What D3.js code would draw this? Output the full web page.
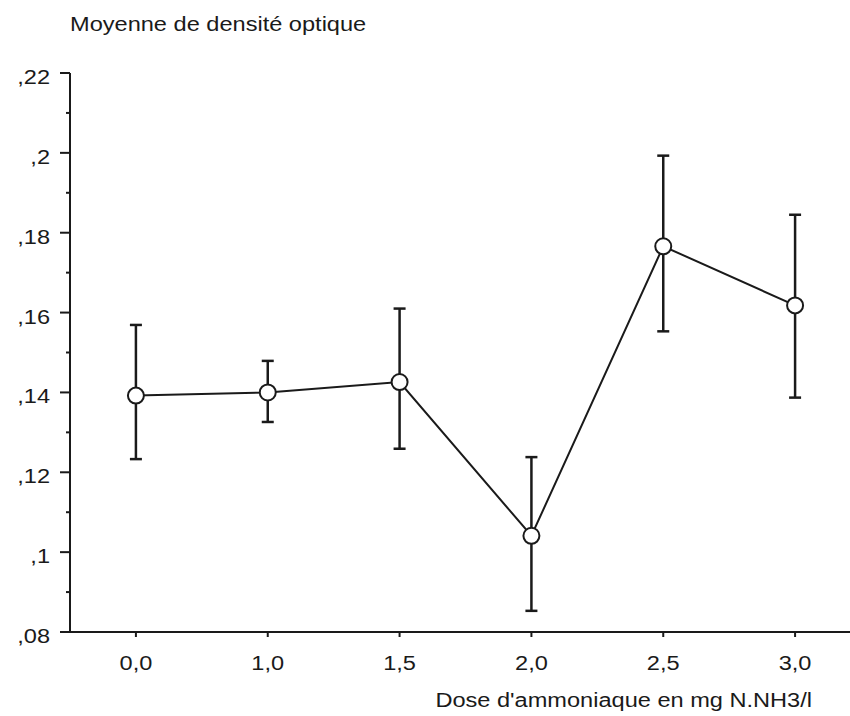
<!DOCTYPE html>
<html>
<head>
<meta charset="utf-8">
<script src="https://cdn.jsdelivr.net/npm/d3@7"></script>
<style>
  html, body { margin: 0; padding: 0; background: #fff; }
  svg { display: block; }
  text { font-family: "Liberation Sans", Arial, Helvetica, sans-serif; fill: #1a1a1a; }
</style>
</head>
<body>
<svg id="chart" width="850" height="716"></svg>
<script>
// Ammonia dose groups (x categories)
const doses = ["0,0", "1,0", "1,5", "2,0", "2,5", "3,0"];
// Mean optical density per dose
const means = [0.1392, 0.1400, 0.1426, 0.1041, 0.1766, 0.1618];
// Error bar limits
const upper = [0.1569, 0.1479, 0.1610, 0.1238, 0.1993, 0.1845];
const lower = [0.1233, 0.1326, 0.1259, 0.0853, 0.1553, 0.1387];
// Y axis ticks and their labels
const yTicks = [0.08, 0.10, 0.12, 0.14, 0.16, 0.18, 0.20, 0.22];
const yTickLabels = [",08", ",1", ",12", ",14", ",16", ",18", ",2", ",22"];
const yMinorTicks = [0.09, 0.11, 0.13, 0.15, 0.17, 0.19, 0.21];

const yTitle = "Moyenne de densité optique";
const xTitle = "Dose d'ammoniaque en mg N.NH3/l";

const svg = d3.select("#chart");
const ink = "#1a1a1a";
const fontSize = 19.5;
const stretch = 1.21;   // wide lettering of the original typeface

const x = d3.scalePoint().domain(doses).range([70, 861]).padding(0.5);
const y = d3.scaleLinear().domain([0.08, 0.22]).range([632, 73]);

const axisX0 = 70, axisY0 = 632;

// Wide text helper: places text with horizontal stretch
function wideText(g, tx, ty, str, anchor) {
  return g.append("text")
    .attr("transform", `translate(${tx},${ty}) scale(${stretch},1)`)
    .attr("text-anchor", anchor)
    .attr("font-size", fontSize)
    .text(str);
}

// Y axis
const yAxis = svg.append("g");
yAxis.append("line")
  .attr("x1", axisX0).attr("x2", axisX0)
  .attr("y1", y(0.22)).attr("y2", axisY0)
  .attr("stroke", ink).attr("stroke-width", 2);
yAxis.selectAll("line.major").data(yTicks).join("line")
  .attr("class", "major")
  .attr("x1", axisX0 - 10).attr("x2", axisX0)
  .attr("y1", d => y(d)).attr("y2", d => y(d))
  .attr("stroke", ink).attr("stroke-width", 2);
yAxis.selectAll("line.minor").data(yMinorTicks).join("line")
  .attr("class", "minor")
  .attr("x1", axisX0 - 4).attr("x2", axisX0)
  .attr("y1", d => y(d)).attr("y2", d => y(d))
  .attr("stroke", ink).attr("stroke-width", 2);
yTicks.forEach((t, i) => wideText(yAxis, 50, y(t) + 11, yTickLabels[i], "end"));

// X axis
const xAxis = svg.append("g");
xAxis.append("line")
  .attr("x1", 60).attr("x2", 850)
  .attr("y1", axisY0).attr("y2", axisY0)
  .attr("stroke", ink).attr("stroke-width", 2);
xAxis.selectAll("line.tick").data(doses).join("line")
  .attr("class", "tick")
  .attr("x1", d => x(d)).attr("x2", d => x(d))
  .attr("y1", axisY0).attr("y2", axisY0 + 5)
  .attr("stroke", ink).attr("stroke-width", 2);
doses.forEach(d => wideText(xAxis, x(d), 670, d, "middle"));

// Axis titles
wideText(svg, 70, 31, yTitle, "start");
wideText(svg, 812, 707, xTitle, "end");

const data = doses.map((d, i) => ({ dose: d, mean: means[i], hi: upper[i], lo: lower[i] }));

// Error bars
const eb = svg.append("g").attr("stroke", ink).attr("stroke-width", 2.5);
eb.selectAll("line.stem").data(data).join("line")
  .attr("class", "stem")
  .attr("x1", d => x(d.dose)).attr("x2", d => x(d.dose))
  .attr("y1", d => y(d.hi)).attr("y2", d => y(d.lo));
eb.selectAll("line.capHi").data(data).join("line")
  .attr("class", "capHi")
  .attr("x1", d => x(d.dose) - 6).attr("x2", d => x(d.dose) + 6)
  .attr("y1", d => y(d.hi)).attr("y2", d => y(d.hi));
eb.selectAll("line.capLo").data(data).join("line")
  .attr("class", "capLo")
  .attr("x1", d => x(d.dose) - 6).attr("x2", d => x(d.dose) + 6)
  .attr("y1", d => y(d.lo)).attr("y2", d => y(d.lo));

// Line joining the means
svg.append("path")
  .datum(data)
  .attr("fill", "none")
  .attr("stroke", ink)
  .attr("stroke-width", 2)
  .attr("d", d3.line().x(d => x(d.dose)).y(d => y(d.mean)));

// Mean markers
svg.append("g").selectAll("circle").data(data).join("circle")
  .attr("cx", d => x(d.dose))
  .attr("cy", d => y(d.mean))
  .attr("r", 8)
  .attr("fill", "#fff")
  .attr("stroke", ink)
  .attr("stroke-width", 2);
</script>
</body>
</html>
